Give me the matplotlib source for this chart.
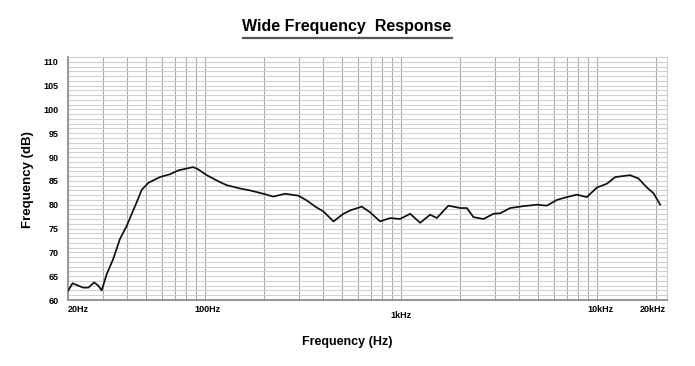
import matplotlib
matplotlib.use("Agg")
import matplotlib.pyplot as plt
from matplotlib.ticker import FixedLocator, MultipleLocator, NullFormatter

# response curve (Hz, dB)
freq_hz = [20.07, 21.1, 23.9, 25.4, 27.2, 28.55, 29.7, 31.5, 34.0, 36.8, 39.9, 42.3,
           44.8, 47.5, 51.4, 58.9, 66.3, 73.1, 80.6, 87.1, 92.4, 102, 118.3, 129,
           150.9, 169.7, 198, 223, 256, 299, 330, 365, 401, 452, 508, 550, 630, 695,
           781, 879, 988, 1112, 1250, 1406, 1521, 1742, 2000, 2164, 2338, 2630, 2958,
           3200, 3598, 4208, 4920, 5536, 6228, 7000, 7876, 8860, 9960, 11200, 12350,
           14700, 16240, 17940, 19380, 20960]
level_db = [62.0, 63.5, 62.6, 62.6, 63.7, 63.0, 62.0, 65.4, 68.6, 72.8, 75.6, 78.1,
            80.5, 83.1, 84.6, 85.8, 86.4, 87.2, 87.6, 87.9, 87.4, 86.2, 84.8, 84.1,
            83.4, 83.0, 82.3, 81.7, 82.3, 81.9, 80.9, 79.6, 78.6, 76.5, 78.1, 78.8, 79.6, 78.4,
            76.5, 77.2, 77.0, 78.1, 76.2, 77.9, 77.2, 79.8, 79.3, 79.3, 77.4, 77.0, 78.1,
            78.2, 79.3, 79.7, 80.0, 79.8, 81.0, 81.6, 82.1, 81.6, 83.6, 84.4, 85.8,
            86.2, 85.5, 83.6, 82.4, 80.0]

x_ticks = [20, 100, 1000, 10000, 20000]
x_tick_labels = ["20Hz", "100Hz", "1kHz", "10kHz", "20kHz"]
y_ticks = [60, 65, 70, 75, 80, 85, 90, 95, 100, 105, 110]

FONT = ["Liberation Sans Narrow", "Liberation Sans", "DejaVu Sans"]
plt.rcParams["font.family"] = FONT

W, H = 695, 366
fig = plt.figure(figsize=(W / 100, H / 100), dpi=100)
ax = fig.add_axes([68 / W, (H - 300) / H, (667 - 68) / W, (300 - 57) / H])

ax.set_xscale("log")
ax.set_xlim(20, 22700)
ax.set_ylim(60, 111)

# grid: every log-decade subdivision, every 1 dB
grid_x = [m * 10 ** e for e in range(1, 5) for m in range(1, 10)]
grid_x = [g for g in grid_x if 20 <= g <= 22700]
ax.xaxis.set_major_locator(FixedLocator(grid_x))
ax.xaxis.set_minor_locator(FixedLocator([]))
ax.xaxis.set_major_formatter(NullFormatter())
ax.xaxis.set_minor_formatter(NullFormatter())
ax.yaxis.set_major_locator(FixedLocator(y_ticks))
ax.yaxis.set_minor_locator(MultipleLocator(1))
ax.grid(True, which="major", axis="x", color="#a8a8a8", lw=0.8)
ax.grid(True, which="both", axis="y", color="#d2d2d2", lw=0.8)
ax.tick_params(axis="both", which="both", length=0)
ax.tick_params(axis="y", pad=7, labelsize=6.5)
for lab in ax.get_yticklabels():
    lab.set_fontweight("bold")

for side in ["left", "bottom"]:
    ax.spines[side].set_color("#9a9a9a")
    ax.spines[side].set_linewidth(1.5)
for side in ["top", "right"]:
    ax.spines[side].set_color("#cfcfcf")
    ax.spines[side].set_linewidth(0.8)

ax.plot(freq_hz, level_db, color="#111111", lw=1.25, zorder=3,
        solid_joinstyle="round")

# frequency labels (1kHz sits a little lower, as in the reference)
offsets = {"20Hz": (0, -10, "left"), "1kHz": (0, -15, "center"), "20kHz": (-3, -10, "center"),
           "10kHz": (3, -10, "center"), "100Hz": (2, -10, "center")}
for f, lab in zip(x_ticks, x_tick_labels):
    dx, dy, ha = offsets[lab]
    ax.annotate(lab, (f, 0), xycoords=("data", "axes fraction"),
                xytext=(dx * 0.72, dy * 0.72), textcoords="offset points",
                ha=ha, va="center", fontsize=6.5, fontweight="bold")

fig.text(347 / W, 1 - 342 / H, "Frequency (Hz)", ha="center", va="center",
         fontsize=9, fontweight="bold")
fig.text(28 / W, 1 - 180 / H, "Frequency (dB)", ha="center", va="center",
         rotation=90, fontsize=9.5, fontweight="bold")

fig.text(347 / W, 1 - 27 / H, "Wide Frequency  Response", ha="center", va="center",
         fontsize=11.5, fontweight="bold")
fig.add_artist(plt.Line2D([243 / W, 452 / W], [1 - 38 / H, 1 - 38 / H],
                          color="#555555", lw=1.6, transform=fig.transFigure))

fig.savefig("out.png", dpi=100)
